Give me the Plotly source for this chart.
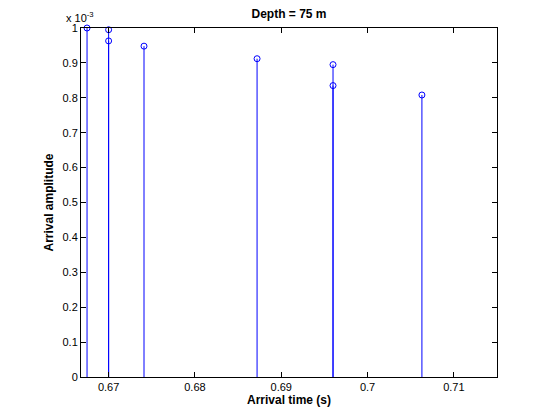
import plotly.graph_objects as go

times = [0.6675, 0.6700, 0.6700, 0.6741, 0.6872, 0.6960, 0.6960, 0.7063]
amps = [1.0, 0.995, 0.963, 0.948, 0.912, 0.895, 0.835, 0.808]  # x 1e-3

fig = go.Figure()
xs, ys = [], []
for t, a in zip(times, amps):
    xs += [t, t, None]
    ys += [0, a, None]
fig.add_trace(go.Scatter(x=xs, y=ys, mode="lines", line=dict(color="blue", width=1), hoverinfo="skip"))
fig.add_trace(go.Scatter(x=times, y=amps, mode="markers", cliponaxis=False,
                         marker=dict(symbol="circle-open", color="blue", size=6, line=dict(width=1))))

ax = dict(showgrid=False, zeroline=False, showline=True, linecolor="black", mirror="ticks",
          ticks="inside", ticklen=5, tickcolor="black", tickfont=dict(size=11, color="black"))
fig.update_layout(
    width=552, height=408, showlegend=False, plot_bgcolor="white", paper_bgcolor="white",
    margin=dict(l=73, r=63, t=20, b=35),
    font=dict(family="Liberation Sans, Arial", color="black"),
    title=dict(text="<b>Depth = 75 m</b>", x=0.5, xanchor="center", xref="paper", y=0.995, yanchor="top", font=dict(size=12)),
    xaxis=dict(range=[0.6668, 0.715], tickvals=[0.67, 0.68, 0.69, 0.70, 0.71],
               ticktext=["0.67", "0.68", "0.69", "0.7", "0.71"],
               title=dict(text="<b>Arrival time (s)</b>", font=dict(size=12), standoff=2), **ax),
    yaxis=dict(range=[0, 1], tickvals=[i/10 for i in range(11)],
               ticktext=["0"] + [f"{i/10:g}" for i in range(1, 10)] + ["1"],
               title=dict(text="<b>Arrival amplitude</b>", font=dict(size=12), standoff=6), **ax),
    annotations=[dict(text="x 10<sup>-3</sup>", xref="paper", yref="paper", x=-0.04, y=1.005,
                      xanchor="left", yanchor="bottom", showarrow=False, font=dict(size=11))],
)
fig.write_html("out.html")
